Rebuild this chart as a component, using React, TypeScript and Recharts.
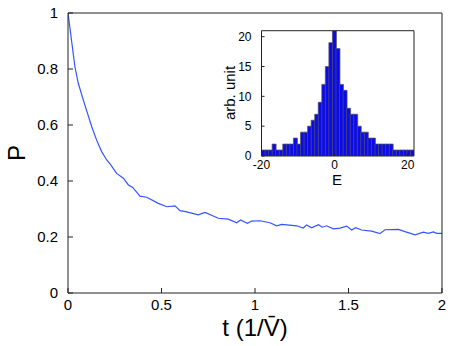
import { LineChart, Line, XAxis, YAxis, BarChart, Bar } from 'recharts';

// survival probability P(t)
const T = [
  0, 0.037, 0.055, 0.082, 0.127, 0.153, 0.18, 0.207, 0.225, 0.26, 0.296, 0.323, 0.346,
  0.385, 0.421, 0.483, 0.528, 0.572, 0.599, 0.635, 0.697, 0.733, 0.804, 0.857, 0.902,
  0.923, 0.959, 0.982, 1.027, 1.08, 1.116, 1.143, 1.223, 1.258, 1.276, 1.303, 1.339,
  1.36, 1.383, 1.419, 1.455, 1.49, 1.517, 1.538, 1.57, 1.624, 1.668, 1.695, 1.767,
  1.802, 1.856, 1.9, 1.927, 1.954, 1.972, 2.0,
];
const P = [
  1.0, 0.808, 0.749, 0.689, 0.594, 0.546, 0.505, 0.475, 0.461, 0.427, 0.41, 0.386, 0.377,
  0.346, 0.342, 0.32, 0.308, 0.311, 0.294, 0.29, 0.279, 0.288, 0.267, 0.264, 0.251,
  0.261, 0.249, 0.257, 0.258, 0.251, 0.24, 0.245, 0.24, 0.232, 0.243, 0.233, 0.244,
  0.235, 0.24, 0.229, 0.232, 0.239, 0.225, 0.233, 0.225, 0.221, 0.212, 0.226, 0.227,
  0.219, 0.208, 0.217, 0.213, 0.218, 0.213, 0.213,
];
const T_TICKS = [0, 0.5, 1, 1.5, 2];
const P_TICKS = [0, 0.2, 0.4, 0.6, 0.8, 1];

// inset histogram of E
const COUNTS = [
  1, 1, 1, 2, 1, 1, 2, 2, 2, 3, 2, 4, 4, 5, 6, 7, 9, 12, 15, 19,
  21, 18, 12, 11, 8, 7, 7, 5, 4, 4, 3, 3, 2, 2, 2, 2, 2, 1, 1, 1, 1, 1, 1,
];
const E_LO = -20;
const E_HI = 21.7;
const E_TICKS = [-20, 0, 20];
const N_TICKS = [0, 5, 10, 15, 20];

const mainData = T.map((t, i) => ({ t, p: P[i] }));
const binW = (E_HI - E_LO) / COUNTS.length;
const histData = COUNTS.map((n, i) => ({ e: E_LO + binW * (i + 0.5), n }));

const FONT = '"Liberation Sans", Arial, Helvetica, sans-serif';
const AX = '#222';
const THIN = 0.01; // mirrored box axes take (almost) no room

export default function App() {
  const tickMain = { fill: '#000', fontSize: 15, fontFamily: FONT };
  const tickInset = { fill: '#000', fontSize: 12, fontFamily: FONT };
  return (
    <div style={{ position: 'absolute', left: 0, top: 0, width: 450, height: 346, background: '#fff' }}>
      <LineChart width={450} height={346} data={mainData} margin={{ top: 13, right: 8, bottom: 0, left: 8 }}>
        <XAxis
          dataKey="t" type="number" domain={[0, 2]} ticks={T_TICKS} allowDataOverflow
          height={53} stroke={AX} tickSize={-5} tickMargin={11} tick={tickMain}
          label={() => (
            <text x={255} y={336} textAnchor="middle" fontSize={24} fontFamily={FONT} fill="#000">
              t (1/V̄)
            </text>
          )}
        />
        <XAxis
          xAxisId="top" orientation="top" type="number" domain={[0, 2]} ticks={T_TICKS}
          allowDataOverflow height={THIN} stroke={AX} tickSize={-5} tick={false}
        />
        <YAxis
          type="number" domain={[0, 1]} ticks={P_TICKS} allowDataOverflow width={60}
          stroke={AX} tickSize={-5} tickMargin={15} tick={tickMain}
          label={() => (
            <text x={25} y={153} textAnchor="middle" fontSize={24} fontFamily={FONT} fill="#000"
              transform="rotate(-90, 25, 153)">
              P
            </text>
          )}
        />
        <YAxis
          yAxisId="right" orientation="right" type="number" domain={[0, 1]} ticks={P_TICKS}
          allowDataOverflow width={THIN} stroke={AX} tickSize={-5} tick={false}
        />
        <Line dataKey="p" type="linear" stroke="#3355ff" strokeWidth={1.2} dot={false} isAnimationActive={false} />
      </LineChart>

      <div style={{ position: 'absolute', left: 215, top: 25 }}>
        <BarChart width={205} height={166} data={histData} barCategoryGap={0} barGap={0}
          margin={{ top: 5.7, right: 6, bottom: 6, left: 0 }}>
          <XAxis
            dataKey="e" type="number" domain={[E_LO, E_HI]} ticks={E_TICKS} allowDataOverflow
            height={29} stroke={AX} tickSize={-3} tickMargin={7} tick={tickInset}
            label={() => (
              <text x={122} y={160} textAnchor="middle" fontSize={15} fontFamily={FONT} fill="#000">E</text>
            )}
          />
          <XAxis
            xAxisId="top" orientation="top" type="number" domain={[E_LO, E_HI]} ticks={E_TICKS}
            allowDataOverflow height={THIN} stroke={AX} tickSize={-3} tick={false}
          />
          <YAxis
            type="number" domain={[0, 21]} ticks={N_TICKS} allowDataOverflow width={46.5}
            stroke={AX} tickSize={-3} tickMargin={13} tick={tickInset}
            label={() => (
              <text x={20} y={68} textAnchor="middle" fontSize={15} fontFamily={FONT} fill="#000"
                transform="rotate(-90, 20, 68)">
                arb. unit
              </text>
            )}
          />
          <YAxis
            yAxisId="right" orientation="right" type="number" domain={[0, 21]} ticks={N_TICKS}
            allowDataOverflow width={THIN} stroke={AX} tickSize={-3} tick={false}
          />
          <Bar dataKey="n" fill="#0a0aee" stroke="#555" strokeWidth={0.7} isAnimationActive={false} />
        </BarChart>
      </div>
    </div>
  );
}
